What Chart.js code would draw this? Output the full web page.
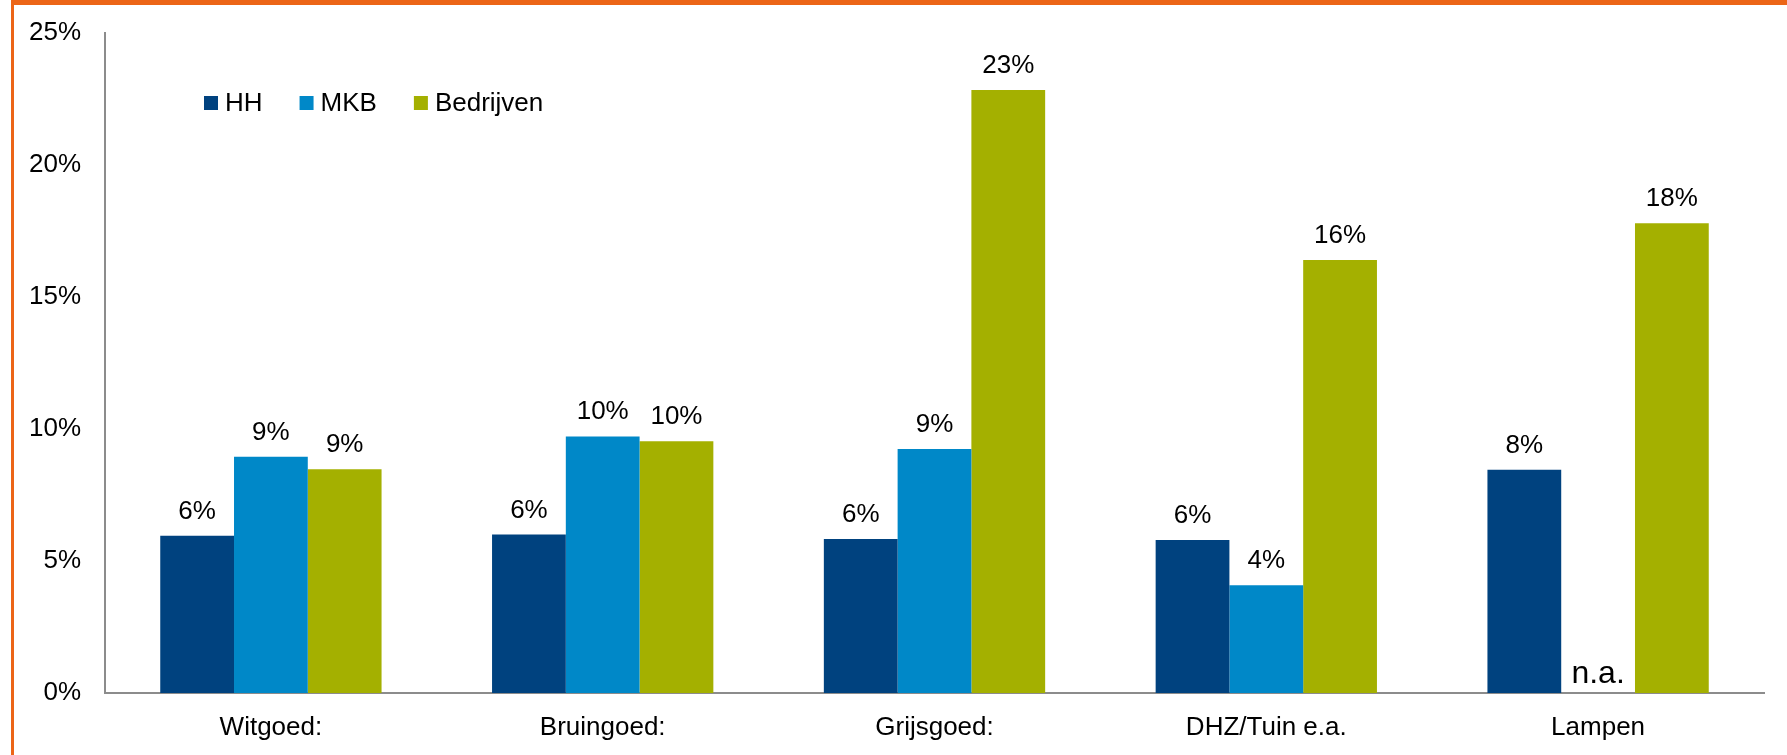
<!DOCTYPE html>
<html>
<head>
<meta charset="utf-8">
<script src="https://cdn.jsdelivr.net/npm/chart.js@4"></script>
<style>
    html, body { margin: 0; padding: 0; background: #ffffff; }
    #wrap { position: relative; width: 1787px; height: 755px; overflow: hidden; }
    #frame {
        position: absolute; left: 11px; top: 0; right: 0; bottom: 0;
        border-top: 5px solid #ec6517; border-left: 3px solid #ec6517;
        pointer-events: none;
    }
    canvas { position: absolute; left: 0; top: 0; }
</style>
</head>
<body>
<div id="wrap">
    <canvas id="chart" width="1787" height="755"></canvas>
    <div id="frame"></div>
</div>
<script>
// categories and series (percentages)
const categories = ['Witgoed:', 'Bruingoed:', 'Grijsgoed:', 'DHZ/Tuin e.a.', 'Lampen'];
const seriesNames = ['HH', 'MKB', 'Bedrijven'];
const hhValues = [5.96, 6.0, 5.83, 5.8, 8.46];
const mkbValues = [8.95, 9.72, 9.24, 4.08, null];
const bedrijvenValues = [8.48, 9.54, 22.84, 16.4, 17.79];
// labels shown above the bars
const hhLabels = ['6%', '6%', '6%', '6%', '8%'];
const mkbLabels = ['9%', '10%', '9%', '4%', 'n.a.'];
const bedrijvenLabels = ['9%', '10%', '23%', '16%', '18%'];
const yTicks = [0, 5, 10, 15, 20, 25];

const colors = ['#00427f', '#0088c8', '#a4b000'];
const FONT = '"Liberation Sans", Arial, sans-serif';

Chart.defaults.font.family = FONT;
Chart.defaults.color = '#000000';

// value labels above bars, "n.a." for missing values
const barLabels = {
    id: 'barLabels',
    afterDatasetsDraw(chart) {
        const ctx = chart.ctx;
        const allLabels = [hhLabels, mkbLabels, bedrijvenLabels];
        const zeroY = chart.scales.y.getPixelForValue(0);
        ctx.save();
        ctx.fillStyle = '#000000';
        ctx.textAlign = 'center';
        ctx.textBaseline = 'alphabetic';
        chart.data.datasets.forEach(function(ds, i) {
            const meta = chart.getDatasetMeta(i);
            meta.data.forEach(function(bar, j) {
                const text = allLabels[i][j];
                if (ds.data[j] === null) {
                    ctx.font = '32px ' + FONT;
                    ctx.fillText(text, bar.x, zeroY - 10);
                } else {
                    ctx.font = '26px ' + FONT;
                    ctx.fillText(text, bar.x, bar.y - 17);
                }
            });
        });
        ctx.restore();
    }
};

// legend drawn inside the plot, top left
const insideLegend = {
    id: 'insideLegend',
    afterDraw(chart) {
        const ctx = chart.ctx;
        const area = chart.chartArea;
        let x = area.left + 99;
        const y = area.top + 70;
        const box = 14;
        ctx.save();
        ctx.font = '26px ' + FONT;
        ctx.textBaseline = 'middle';
        ctx.textAlign = 'left';
        chart.data.datasets.forEach(function(ds) {
            ctx.fillStyle = ds.backgroundColor;
            ctx.fillRect(x, y - box / 2, box, box);
            x += box + 7;
            ctx.fillStyle = '#000000';
            ctx.fillText(ds.label, x, y + 1);
            x += ctx.measureText(ds.label).width + 37;
        });
        ctx.restore();
    }
};

const ctx = document.getElementById('chart').getContext('2d');
new Chart(ctx, {
    type: 'bar',
    data: {
        labels: categories,
        datasets: [
            { label: seriesNames[0], data: hhValues, backgroundColor: colors[0] },
            { label: seriesNames[1], data: mkbValues, backgroundColor: colors[1] },
            { label: seriesNames[2], data: bedrijvenValues, backgroundColor: colors[2] }
        ]
    },
    options: {
        responsive: false,
        animation: false,
        devicePixelRatio: 1,
        layout: { padding: { top: 33, right: 23, left: 0, bottom: 0 } },
        datasets: {
            bar: { categoryPercentage: 0.667, barPercentage: 1.0, borderWidth: 0 }
        },
        plugins: {
            legend: { display: false },
            tooltip: { enabled: false }
        },
        scales: {
            x: {
                grid: { display: false, drawTicks: false },
                border: { display: true, color: '#8c8c8c', width: 2 },
                ticks: { font: { size: 26 }, color: '#000000', padding: 19, maxRotation: 0 },
                afterFit: function(scale) { scale.height = 62; }
            },
            y: {
                min: 0,
                max: 25,
                grid: { display: false, drawTicks: false },
                border: { display: true, color: '#8c8c8c', width: 2 },
                afterBuildTicks: function(scale) {
                    scale.ticks = yTicks.map(function(v) { return { value: v }; });
                },
                ticks: {
                    font: { size: 26 },
                    color: '#000000',
                    padding: 24,
                    callback: function(value) { return value + '%'; }
                },
                afterFit: function(scale) {
                    scale.width = 105;
                    scale.paddingTop = 0;
                    scale.paddingBottom = 0;
                }
            }
        }
    },
    plugins: [barLabels, insideLegend]
});
</script>
</body>
</html>
